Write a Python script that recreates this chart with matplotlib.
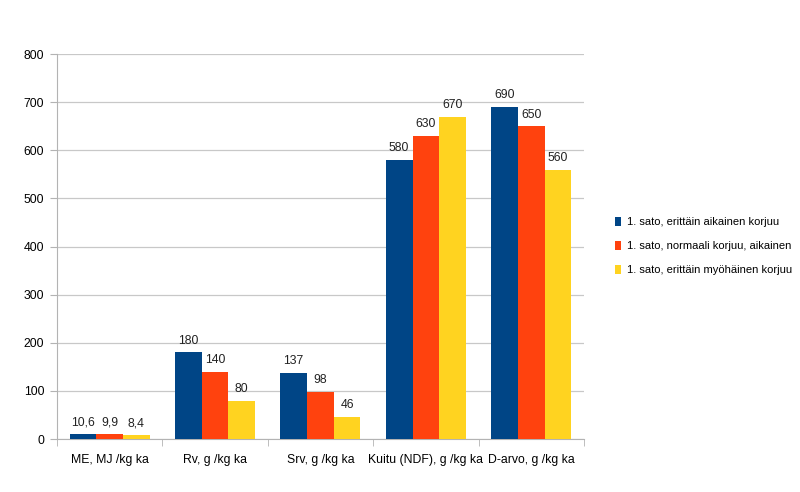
import matplotlib
matplotlib.use("Agg")
import matplotlib.pyplot as plt
import numpy as np

categories = ["ME, MJ /kg ka", "Rv, g /kg ka", "Srv, g /kg ka", "Kuitu (NDF), g /kg ka", "D-arvo, g /kg ka"]
series_names = ["1. sato, erittäin aikainen korjuu",
                "1. sato, normaali korjuu, aikainen",
                "1. sato, erittäin myöhäinen korjuu"]
early = [10.6, 180, 137, 580, 690]
normal = [9.9, 140, 98, 630, 650]
late = [8.4, 80, 46, 670, 560]
colors = ["#004586", "#ff420e", "#ffd320"]
yticks = [0, 100, 200, 300, 400, 500, 600, 700, 800]

plt.rcParams['font.family'] = ['Liberation Sans', 'DejaVu Sans']
FS = 8.8

fig = plt.figure(figsize=(8, 4.92), dpi=100)
ax = fig.add_axes([0.071, 0.1077, 0.659, 0.7823])

n = len(categories)
x = np.arange(n)
bw = 0.253
series = [early, normal, late]

def fmt(v):
    s = f"{v:g}"
    return s.replace(".", ",")

for i, (vals, c, name) in enumerate(zip(series, colors, series_names)):
    pos = x + (i - 1) * bw
    ax.bar(pos, vals, width=bw, color=c, label=name, zorder=3)
    for p, v in zip(pos, vals):
        ax.text(p, v + 12, fmt(v), ha='center', va='bottom', fontsize=FS, color='#222222')

ax.set_xlim(-0.5, n - 0.5)
ax.set_ylim(0, 800)
ax.set_yticks(yticks)
ax.set_yticklabels([str(t) for t in yticks], fontsize=FS)
ax.yaxis.grid(True, color='#c8c8c8', linewidth=0.9, zorder=0)
ax.set_xticks(x)
ax.set_xticklabels(categories, fontsize=FS)
ax.tick_params(axis='x', length=0, pad=11)
ax.set_xticks(np.arange(-0.5, n, 1.0), minor=True)
ax.tick_params(axis='x', which='minor', length=5, color='#b3b3b3')
ax.tick_params(axis='y', length=5, color='#b3b3b3', pad=4)
for s in ['top', 'right']:
    ax.spines[s].set_visible(False)
for s in ['left', 'bottom']:
    ax.spines[s].set_color('#b3b3b3')

ax.legend(loc='upper left', bbox_to_anchor=(1.05, 0.588), frameon=False, fontsize=8.0,
          handlelength=0.6, handleheight=0.8, handletextpad=0.5, labelspacing=1.25,
          borderaxespad=0.0)

fig.savefig("out.png", dpi=100)
